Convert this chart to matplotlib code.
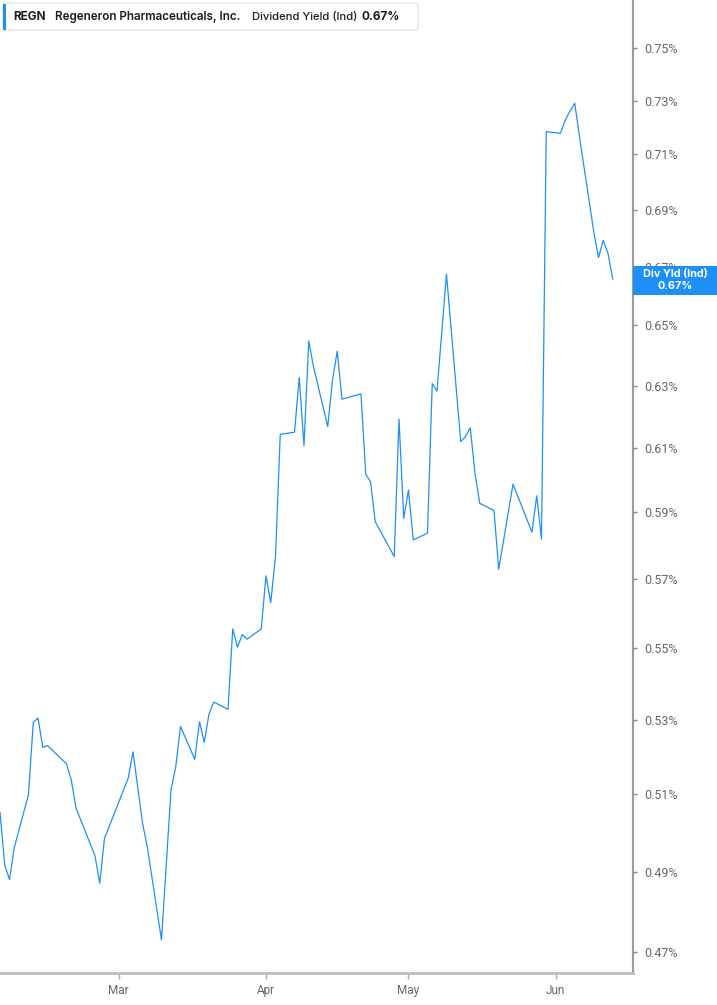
import matplotlib
matplotlib.use("Agg")
import matplotlib.pyplot as plt
import matplotlib.dates as mdates
from matplotlib.patches import FancyBboxPatch, Rectangle
import pandas as pd

# Dividend yield (%), trading days 2025
dates = [
    "2025-02-04", "2025-02-05", "2025-02-06", "2025-02-07", "2025-02-10",
    "2025-02-11", "2025-02-12", "2025-02-13", "2025-02-14", "2025-02-18",
    "2025-02-19", "2025-02-20", "2025-02-24", "2025-02-25", "2025-02-26",
    "2025-03-03", "2025-03-04", "2025-03-06", "2025-03-07", "2025-03-10",
    "2025-03-12", "2025-03-13", "2025-03-14", "2025-03-17", "2025-03-18",
    "2025-03-19", "2025-03-20", "2025-03-21", "2025-03-24", "2025-03-25",
    "2025-03-26", "2025-03-27", "2025-03-28", "2025-03-31", "2025-04-01",
    "2025-04-02", "2025-04-03", "2025-04-04", "2025-04-07", "2025-04-08",
    "2025-04-09", "2025-04-10", "2025-04-11", "2025-04-14", "2025-04-15",
    "2025-04-16", "2025-04-17", "2025-04-21", "2025-04-22", "2025-04-23",
    "2025-04-24", "2025-04-28", "2025-04-29", "2025-04-30", "2025-05-01",
    "2025-05-02", "2025-05-05", "2025-05-06", "2025-05-07", "2025-05-09",
    "2025-05-12", "2025-05-13", "2025-05-14", "2025-05-15", "2025-05-16",
    "2025-05-19", "2025-05-20", "2025-05-23", "2025-05-27", "2025-05-28",
    "2025-05-29", "2025-05-30", "2025-06-02", "2025-06-03", "2025-06-04",
    "2025-06-05", "2025-06-06", "2025-06-09", "2025-06-10", "2025-06-11",
    "2025-06-12", "2025-06-13",
]
div_yield = [
    0.5052, 0.4916, 0.4880, 0.4961, 0.5099,
    0.5293, 0.5305, 0.5225, 0.5230, 0.5181,
    0.5138, 0.5064, 0.4940, 0.4871, 0.4985,
    0.5143, 0.5213, 0.5025, 0.4964, 0.4730,
    0.5111, 0.5173, 0.5282, 0.5193, 0.5295,
    0.5239, 0.5316, 0.5349, 0.5329, 0.5555,
    0.5503, 0.5539, 0.5526, 0.5555, 0.5710,
    0.5631, 0.5767, 0.6143, 0.6150, 0.6326,
    0.6107, 0.6447, 0.6362, 0.6168, 0.6318,
    0.6413, 0.6256, 0.6273, 0.6018, 0.5995,
    0.5872, 0.5767, 0.6192, 0.5882, 0.5969,
    0.5817, 0.5837, 0.6307, 0.6282, 0.6674,
    0.6120, 0.6136, 0.6164, 0.6021, 0.5928,
    0.5906, 0.5729, 0.5987, 0.5840, 0.5951,
    0.5819, 0.7184, 0.7178, 0.7227, 0.7261,
    0.7290, 0.7165, 0.6822, 0.6731, 0.6791,
    0.6746, 0.6657,
]
ytick_vals = [0.47, 0.49, 0.51, 0.53, 0.55, 0.57, 0.59, 0.61, 0.63, 0.65, 0.67, 0.69, 0.71, 0.73, 0.75]
month_ticks = ["2025-03-01", "2025-04-01", "2025-05-01", "2025-06-01"]
month_labels = ["Mar", "Apr", "May", "Jun"]

blue = "#1e8ff5"
plt.rcParams['font.family'] = ['Roboto', 'DejaVu Sans']

fig = plt.figure(figsize=(7.17, 10.05), dpi=100)
ax = fig.add_axes([0, 0.0315, 0.8824, 0.9685])

x = pd.to_datetime(dates)
ax.plot(x, div_yield, color=blue, linewidth=0.9)

ax.set_yscale('log')
ax.set_ylim(0.4649, 0.7690)
ax.yaxis.set_minor_locator(matplotlib.ticker.NullLocator())
ax.set_yticks(ytick_vals)
ax.set_yticklabels([f"{v:.2f}%" for v in ytick_vals])
ax.yaxis.tick_right()

x0 = mdates.date2num(pd.Timestamp("2025-02-04"))
ax.set_xlim(x0, x0 + 133.2)
ax.set_xticks(pd.to_datetime(month_ticks))
ax.set_xticklabels(month_labels)

for side in ['left', 'top']:
    ax.spines[side].set_visible(False)
ax.spines['right'].set_color('#9a9a9a')
ax.spines['right'].set_linewidth(1.5)
ax.spines['bottom'].set_color('#bdbdbd')
ax.spines['bottom'].set_linewidth(2)
ax.tick_params(axis='y', colors='#888888', labelcolor='#666666', length=3, width=1, pad=5, labelsize=9)
ax.tick_params(axis='x', colors='#aaaaaa', labelcolor='#666666', length=4, width=1, pad=4, labelsize=8.5)

# legend box at top left
fig.patches.append(FancyBboxPatch((3 / 717, 1 - 30 / 1005), 415 / 717, 27 / 1005,
                                  boxstyle="round,pad=0,rounding_size=0.003",
                                  transform=fig.transFigure, facecolor='white',
                                  edgecolor='#e4e4e4', linewidth=1, zorder=5))
fig.patches.append(Rectangle((3 / 717, 1 - 30 / 1005), 3 / 717, 26 / 1005,
                             transform=fig.transFigure, facecolor=blue,
                             edgecolor='none', zorder=6))
ty = 1 - 17 / 1005
lfont = ['Inter', 'DejaVu Sans']
fig.text(13 / 717, ty, "REGN", family=lfont, fontsize=8.5, fontweight='bold', color='#1c1c1c', va='center', zorder=7)
fig.text(55 / 717, ty, "Regeneron Pharmaceuticals, Inc.", family=lfont, fontsize=8.4, fontweight='semibold',
         color='#1c1c1c', va='center', zorder=7)
fig.text(252 / 717, ty, "Dividend Yield (Ind)", family=lfont, fontsize=8.1, fontweight='medium',
         color='#1c1c1c', va='center', zorder=7)
fig.text(362 / 717, ty, "0.67%", family=lfont, fontsize=8.5, fontweight='bold', color='#1c1c1c', va='center', zorder=7)

# last value tag on the right axis
fig.patches.append(Rectangle((633 / 717, 1 - 295 / 1005), 84 / 717, 29 / 1005,
                             transform=fig.transFigure, facecolor=blue,
                             edgecolor='none', zorder=6))
fig.text(675 / 717, 1 - 274 / 1005, "Div Yld (Ind)", family=lfont, fontsize=7.8, fontweight='bold', color='white',
         ha='center', va='center', zorder=7)
fig.text(675 / 717, 1 - 286 / 1005, "0.67%", family=lfont, fontsize=7.8, fontweight='bold', color='white',
         ha='center', va='center', zorder=7)

fig.savefig("out.png", dpi=100)
